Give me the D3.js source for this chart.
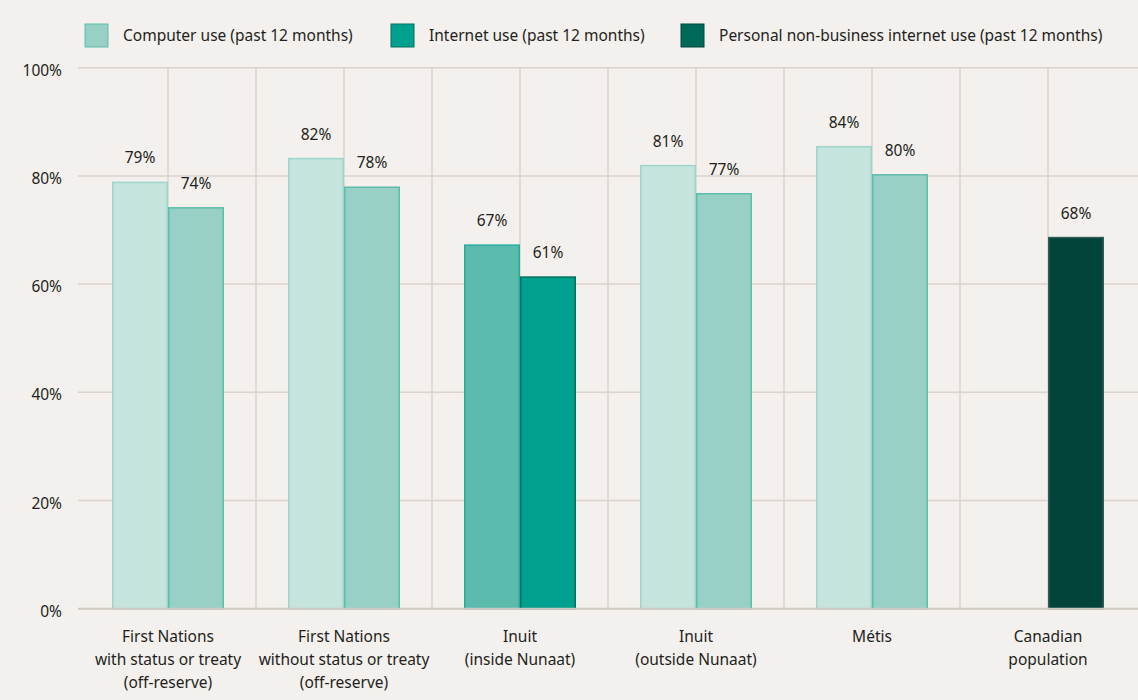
<!DOCTYPE html>
<head>
    <meta charset="utf-8">
    <style>
        body { margin: 0; background: #f3f0ed; }
        text { font-family: "Noto Sans", sans-serif; fill: #231f20; }
    </style>
    <script src="https://d3js.org/d3.v7.min.js"></script>
</head>
<body>
    <div id="chart"></div>
    <script>

        // categories (each label split into lines)
        var categories = [
            ["First Nations", "with status or treaty", "(off-reserve)"],
            ["First Nations", "without status or treaty", "(off-reserve)"],
            ["Inuit", "(inside Nunaat)"],
            ["Inuit", "(outside Nunaat)"],
            ["Métis"],
            ["Canadian", "population"]
        ];

        var seriesNames = [
            "Computer use (past 12 months)",
            "Internet use (past 12 months)",
            "Personal non-business internet use (past 12 months)"
        ];

        // values (null = no bar)
        var computerUse  = [78.8, 83.2, 67.2, 81.9, 85.4, null];
        var internetUse  = [74.1, 77.9, 61.3, 76.7, 80.2, null];
        var personalUse  = [null, null, null, null, null, 68.6];

        // printed labels
        var computerLabels = ["79%", "82%", "67%", "81%", "84%", ""];
        var internetLabels = ["74%", "78%", "61%", "77%", "80%", ""];
        var personalLabels = ["", "", "", "", "", "68%"];

        var yTicks = [0, 20, 40, 60, 80, 100];

        var w = 1138,
            h = 700;

        var svg = d3.select("#chart")
                    .append("svg")
                    .attr("width", w)
                    .attr("height", h);

        var ids = categories.map(function(c, i) { return "c" + i; });

        var x = d3.scaleBand()
                  .domain(ids)
                  .range([80, 1136])
                  .padding(0);

        // two slots per group, the third series sits in the right slot
        var slot = d3.scaleBand()
                     .domain(["left", "right"])
                     .range([0, x.bandwidth()])
                     .paddingInner(0)
                     .paddingOuter(0.5714);

        var y = d3.scaleLinear()
                  .domain([0, 100])
                  .range([608.7, 67.7]);

        var gridColor = "#d8d3cd";

        // horizontal grid
        svg.append("g")
           .selectAll("line")
           .data(yTicks.filter(function(d) { return d > 0; }))
           .enter()
           .append("line")
           .attr("x1", 78).attr("x2", w)
           .attr("y1", function(d) { return y(d); })
           .attr("y2", function(d) { return y(d); })
           .attr("stroke", gridColor)
           .attr("stroke-width", 1.5);

        // vertical grid: group centres and group boundaries
        var vlines = [];
        ids.forEach(function(id, i) {
            if (i > 0) vlines.push(x(id));
            vlines.push(x(id) + x.bandwidth() / 2);
        });

        svg.append("g")
           .selectAll("line")
           .data(vlines)
           .enter()
           .append("line")
           .attr("x1", function(d) { return d; })
           .attr("x2", function(d) { return d; })
           .attr("y1", y(100))
           .attr("y2", y(0))
           .attr("stroke", gridColor)
           .attr("stroke-width", 1.5);

        svg.append("g")
           .selectAll("text")
           .data(yTicks)
           .enter()
           .append("text")
           .attr("x", 62)
           .attr("y", function(d) { return y(d) + 8; })
           .attr("text-anchor", "end")
           .style("font-size", "15.5px")
           .text(function(d) { return d + "%"; });

        // bar colours (Inuit inside Nunaat is highlighted)
        var normal = [
            { fill: "#c5e4de", stroke: "#9ed5c9" },
            { fill: "#98d0c6", stroke: "#5dbcab" },
            { fill: "#02433a", stroke: "#2c5f56" }
        ];
        var highlight = [
            { fill: "#5bbcae", stroke: "#27ab99" },
            { fill: "#00a08e", stroke: "#00705f" },
            { fill: "#02433a", stroke: "#2c5f56" }
        ];
        var legendColors = [
            { fill: "#98d0c6", stroke: "#5dbcab" },
            { fill: "#00a08e", stroke: "#00705f" },
            { fill: "#00695a", stroke: "#004a3f" }
        ];

        var bars = [];
        ids.forEach(function(id, i) {
            [[computerUse, computerLabels, "left", 0],
             [internetUse, internetLabels, "right", 1],
             [personalUse, personalLabels, "right", 2]].forEach(function(s) {
                if (s[0][i] != null) {
                    bars.push({ id: id, i: i, value: s[0][i], label: s[1][i], slot: s[2], series: s[3] });
                }
            });
        });

        function colorOf(d) {
            return (d.i === 2 ? highlight : normal)[d.series];
        }

        svg.append("g")
           .selectAll("rect")
           .data(bars)
           .enter()
           .append("rect")
           .attr("x", function(d) { return x(d.id) + slot(d.slot) + 0.75; })
           .attr("y", function(d) { return y(d.value); })
           .attr("width", slot.bandwidth() - 1.5)
           .attr("height", function(d) { return y(0) - y(d.value); })
           .attr("fill", function(d) { return colorOf(d).fill; })
           .attr("stroke", function(d) { return colorOf(d).stroke; })
           .attr("stroke-width", 1.5);

        svg.append("g")
           .selectAll("text")
           .data(bars)
           .enter()
           .append("text")
           .attr("x", function(d) { return x(d.id) + slot(d.slot) + slot.bandwidth() / 2; })
           .attr("y", function(d) { return y(d.value) - 19; })
           .attr("text-anchor", "middle")
           .style("font-size", "15.5px")
           .text(function(d) { return d.label; });

        // x axis line
        svg.append("line")
           .attr("x1", 78).attr("x2", w)
           .attr("y1", y(0)).attr("y2", y(0))
           .attr("stroke", "#cfc9c1")
           .attr("stroke-width", 2);

        // category labels
        var cat = svg.append("g")
                     .selectAll("text")
                     .data(categories)
                     .enter()
                     .append("text")
                     .attr("text-anchor", "middle")
                     .style("font-size", "15.5px");

        cat.selectAll("tspan")
           .data(function(d, i) { return d.map(function(line) { return { line: line, i: i }; }); })
           .enter()
           .append("tspan")
           .attr("x", function(d) { return x(ids[d.i]) + x.bandwidth() / 2; })
           .attr("y", function(d, j) { return 642 + j * 23; })
           .text(function(d) { return d.line; });

        // legend
        var legendX = [85, 391, 681];

        var legend = svg.append("g")
                        .selectAll("g")
                        .data(seriesNames)
                        .enter()
                        .append("g")
                        .attr("transform", function(d, i) { return "translate(" + legendX[i] + ",24)"; });

        legend.append("rect")
              .attr("width", 23)
              .attr("height", 23)
              .attr("fill", function(d, i) { return legendColors[i].fill; })
              .attr("stroke", function(d, i) { return legendColors[i].stroke; })
              .attr("stroke-width", 1);

        legend.append("text")
              .attr("x", 38)
              .attr("y", 17)
              .style("font-size", "15.5px")
              .text(function(d) { return d; });

    </script>
</body>
